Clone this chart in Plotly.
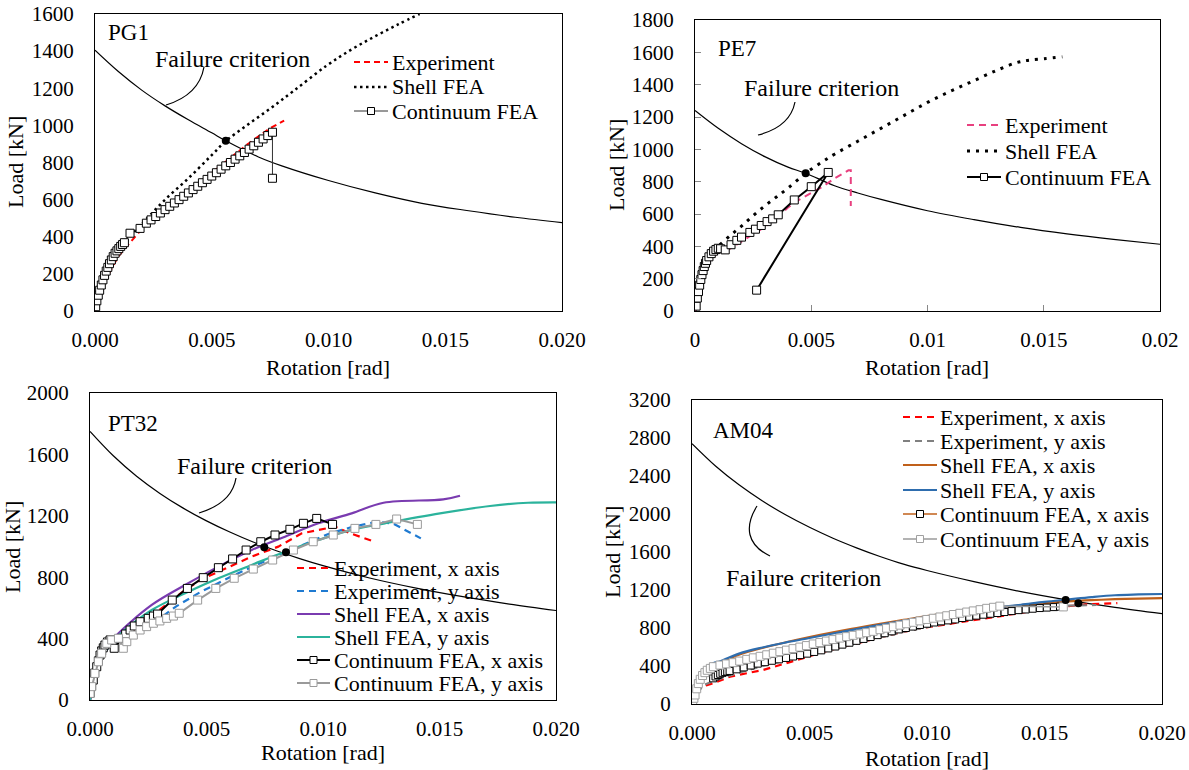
import plotly.graph_objects as go

W, H = 1189, 770
FONT = "Liberation Serif, Times New Roman, serif"


def px(x):
    return x / W


def py(y):
    return 1 - y / H


# ======================= DATA =======================
# ---- PG1 ----
pg1_fail_x = [0, 0.001, 0.002, 0.003, 0.004, 0.005, 0.0056, 0.007, 0.008, 0.010, 0.012, 0.014, 0.016, 0.018, 0.020]
pg1_fail_y = [1405, 1290, 1190, 1105, 1030, 960, 917, 830, 782, 703, 636, 580, 540, 505, 476]
pg1_exp_x = [0, 0.0001, 0.0003, 0.0005, 0.0008, 0.001, 0.0013, 0.0016, 0.002, 0.0025, 0.003, 0.0035, 0.004,
             0.0045, 0.005, 0.0055, 0.006, 0.0065, 0.007, 0.0075, 0.0081]
pg1_exp_y = [0, 45, 120, 180, 250, 295, 340, 385, 440, 490, 540, 590, 640, 690, 740, 790, 845, 895, 940, 985, 1025]
pg1_shell_x = [0, 0.0001, 0.0002, 0.0003, 0.0005, 0.0007, 0.0009, 0.0011, 0.0013, 0.0016, 0.0019, 0.0022, 0.003,
               0.004, 0.005, 0.0056, 0.0065, 0.0075, 0.0085, 0.0099, 0.011, 0.012, 0.013, 0.0139]
pg1_shell_y = [0, 55, 110, 160, 225, 275, 312, 345, 372, 415, 455, 495, 600, 715, 840, 915, 1000, 1090, 1185, 1320,
               1410, 1480, 1545, 1600]
pg1_cont_x = [0.00003, 0.00008, 0.00014, 0.0002, 0.00027, 0.00034, 0.00041, 0.00048, 0.00055, 0.00062, 0.0007,
              0.00078, 0.00086, 0.00094, 0.00102, 0.0011, 0.00118, 0.00126, 0.0015, 0.00193, 0.0022, 0.0024, 0.0026,
              0.0028, 0.003, 0.0032, 0.0034, 0.0036, 0.0038, 0.004, 0.0042, 0.0044, 0.0046, 0.0048, 0.005, 0.0052,
              0.0054, 0.0056, 0.0058, 0.006, 0.0062, 0.0064, 0.0066, 0.0068, 0.007, 0.0072, 0.0074, 0.0076, 0.0076]
pg1_cont_y = [23, 55, 85, 112, 140, 168, 192, 215, 235, 255, 275, 293, 311, 324, 336, 348, 358, 368, 419, 445, 473,
              491, 509, 528, 546, 564, 582, 600, 618, 636, 654, 672, 691, 709, 727, 745, 764, 782, 800, 818, 836, 854,
              872, 890, 909, 927, 945, 963, 715]
pg1_dot_x = [0.0056]
pg1_dot_y = [917]

# ---- PE7 ----
pe7_fail_x = [0, 0.001, 0.002, 0.003, 0.004, 0.00476, 0.006, 0.007, 0.008, 0.010, 0.012, 0.014, 0.016, 0.018, 0.020]
pe7_fail_y = [1240, 1130, 1035, 955, 890, 852, 775, 730, 690, 620, 565, 517, 477, 443, 413]
pe7_exp_x = [0, 0.0002, 0.0004, 0.0006, 0.0008, 0.001, 0.0015, 0.002, 0.0025, 0.003, 0.0035, 0.004, 0.0045,
             0.005, 0.0055, 0.006, 0.0066, 0.0067, 0.0067]
pe7_exp_y = [0, 130, 230, 300, 340, 360, 385, 430, 480, 520, 575, 640, 690, 730, 770, 820, 870, 870, 650]
pe7_shell_x = [0, 0.0001, 0.0002, 0.0003, 0.0004, 0.0005, 0.0006, 0.0007, 0.0008, 0.001, 0.0015, 0.002, 0.0025,
               0.003, 0.0035, 0.004, 0.00476, 0.0055, 0.006, 0.007, 0.008, 0.009, 0.010, 0.011, 0.012, 0.013,
               0.0138, 0.0143, 0.015, 0.0158]
pe7_shell_y = [0, 60, 125, 185, 235, 280, 315, 345, 370, 400, 465, 525, 590, 650, 705, 760, 852, 925, 970, 1050,
               1130, 1210, 1290, 1360, 1425, 1490, 1535, 1550, 1560, 1572]
pe7_cont_x = [0.00005, 0.0001, 0.00015, 0.0002, 0.00025, 0.0003, 0.00035, 0.0004, 0.00045, 0.0005, 0.0006, 0.0007,
              0.0008, 0.0009, 0.001, 0.0011, 0.0013, 0.00155, 0.0018, 0.002, 0.00236, 0.0026, 0.00285, 0.0031,
              0.00334, 0.00358, 0.00427, 0.005, 0.00573, 0.00265]
pe7_cont_y = [30, 80, 120, 160, 195, 225, 250, 275, 295, 312, 335, 355, 370, 380, 388, 385, 378, 410, 437, 457, 486,
              506, 529, 553, 570, 595, 687, 769, 857, 129]
pe7_dot_x = [0.00476]
pe7_dot_y = [852]

# ---- PT32 ----
pt32_fail_x = [0, 0.001, 0.002, 0.003, 0.004, 0.005, 0.006, 0.007, 0.008, 0.009, 0.010, 0.012, 0.014, 0.016, 0.018,
               0.020]
pt32_fail_y = [1750, 1591, 1458, 1346, 1250, 1167, 1094, 1029, 972, 921, 875, 795, 729, 673, 625, 583]
pt32_expx_x = [0, 0.0001, 0.0003, 0.0005, 0.0007, 0.001, 0.0015, 0.002, 0.0025, 0.00329, 0.00408, 0.00479, 0.0058,
               0.00694, 0.00808, 0.00909, 0.01052, 0.01116, 0.01209]
pt32_expx_y = [0, 60, 180, 270, 330, 380, 420, 470, 530, 619, 717, 786, 858, 934, 999, 1086, 1129, 1086, 1038]
pt32_expy_x = [0, 0.0003, 0.0006, 0.001, 0.0015, 0.002, 0.0028, 0.0037, 0.0047, 0.006, 0.007, 0.008, 0.009, 0.0102,
               0.0113, 0.0123, 0.013, 0.0142]
pt32_expy_y = [0, 190, 310, 370, 400, 440, 510, 610, 700, 800, 870, 935, 1000, 1080, 1130, 1160, 1150, 1053]
pt32_shx_x = [0, 0.0002, 0.0004, 0.0006, 0.0008, 0.001, 0.00115, 0.00265, 0.00408, 0.00551, 0.00694, 0.00837,
              0.0098, 0.01123, 0.0126, 0.01516, 0.01588]
pt32_shx_y = [0, 130, 230, 300, 350, 390, 423, 619, 749, 869, 977, 1064, 1151, 1216, 1285, 1307, 1331]
pt32_shy_x = [0, 0.0002, 0.0004, 0.0006, 0.0008, 0.001, 0.00115, 0.00265, 0.00408, 0.00551, 0.00694, 0.00837,
              0.0098, 0.01123, 0.01266, 0.01502, 0.01717, 0.0188, 0.02]
pt32_shy_y = [0, 130, 230, 300, 350, 390, 412, 586, 695, 793, 880, 966, 1042, 1108, 1151, 1216, 1264, 1285, 1288]
pt32_cx_x = [0, 0.00007, 0.00014, 0.0002, 0.00029, 0.00036, 0.00043, 0.0005, 0.00057, 0.00064, 0.00075, 0.00086,
             0.00095, 0.00104, 0.00136, 0.00153, 0.00172, 0.0019, 0.00215, 0.0025, 0.00272, 0.0029, 0.00353,
             0.00418, 0.00486, 0.00551, 0.00612, 0.0067, 0.00733, 0.00794, 0.00858, 0.00916, 0.00973, 0.01041]
pt32_cx_y = [43, 90, 130, 175, 217, 255, 293, 320, 340, 358, 378, 391, 385, 337, 402, 430, 456, 482, 510, 532, 547,
             560, 651, 727, 797, 862, 919, 977, 1031, 1075, 1112, 1151, 1183, 1144]
pt32_cy_x = [0, 0.00007, 0.00021, 0.00036, 0.0005, 0.00072, 0.00093, 0.00122, 0.00143, 0.00158, 0.00186, 0.00215,
             0.00243, 0.00272, 0.003, 0.00329, 0.00358, 0.00383, 0.00462, 0.0054, 0.00619, 0.00701, 0.00784,
             0.00873, 0.00958, 0.01044, 0.01137, 0.01227, 0.01316, 0.01405]
pt32_cy_y = [43, 87, 173, 249, 304, 369, 391, 402, 337, 380, 423, 456, 478, 500, 515, 532, 547, 565, 651, 727, 793,
             853, 912, 977, 1031, 1075, 1118, 1144, 1179, 1144]
pt32_dot_x = [0.00748, 0.00841]
pt32_dot_y = [995, 962]

# ---- AM04 ----
am_fail_x = [0, 0.001, 0.002, 0.003, 0.004, 0.005, 0.006, 0.007, 0.008, 0.009, 0.010, 0.012, 0.014, 0.016, 0.018,
             0.020]
am_fail_y = [2740, 2505, 2307, 2137, 1989, 1860, 1745, 1644, 1553, 1472, 1405, 1288, 1183, 1094, 1018, 951]
am_expx_x = [0, 0.0001, 0.0002, 0.00034, 0.0006, 0.00091, 0.00162, 0.00303, 0.00446, 0.00587, 0.00729, 0.00871,
             0.0097, 0.01112, 0.01297, 0.01538, 0.0168, 0.0181]
am_expx_y = [0, 50, 100, 165, 195, 218, 288, 358, 463, 568, 656, 744, 797, 849, 919, 1014, 1049, 1062]
am_expy_x = [0, 0.0002, 0.0005, 0.001, 0.002, 0.003, 0.004, 0.005, 0.006, 0.007, 0.008, 0.009, 0.010, 0.011, 0.012,
             0.013, 0.014, 0.015, 0.016, 0.0172]
am_expy_y = [0, 110, 200, 250, 330, 400, 460, 520, 580, 640, 700, 760, 810, 860, 905, 945, 980, 1010, 1035, 1042]
am_shx_x = [0, 0.0003, 0.0006, 0.0009, 0.0012, 0.002, 0.003, 0.004, 0.005, 0.006, 0.007, 0.008, 0.009, 0.010,
            0.011, 0.012, 0.013, 0.014, 0.015, 0.016, 0.017, 0.018, 0.019, 0.020]
am_shx_y = [0, 250, 370, 420, 440, 520, 590, 650, 705, 755, 800, 845, 885, 925, 960, 990, 1015, 1040, 1062, 1080,
            1093, 1103, 1110, 1115]
am_shy_x = [0, 0.0003, 0.0006, 0.0009, 0.0012, 0.002, 0.003, 0.004, 0.005, 0.006, 0.007, 0.008, 0.009, 0.010,
            0.011, 0.012, 0.013, 0.014, 0.015, 0.016, 0.017, 0.018, 0.019, 0.020]
am_shy_y = [0, 260, 380, 430, 450, 530, 595, 648, 695, 742, 788, 833, 876, 918, 955, 990, 1018, 1045, 1075, 1100,
            1125, 1145, 1153, 1158]
am_cx_x = [0.0009, 0.001, 0.0011, 0.0012, 0.0013, 0.0014, 0.0015, 0.0016, 0.0019, 0.0022, 0.0025, 0.0028, 0.0031,
           0.0034, 0.0037, 0.004, 0.0043, 0.0046, 0.0049, 0.0052, 0.0055, 0.0058, 0.0061, 0.0064, 0.0067, 0.007,
           0.0073, 0.0076, 0.0079, 0.0082, 0.0085, 0.0088, 0.0091, 0.0094, 0.0097, 0.01, 0.0103, 0.0106, 0.0109,
           0.0112, 0.0115, 0.0118, 0.0121, 0.0124, 0.0127, 0.013, 0.0133, 0.0136, 0.0139, 0.0142, 0.0145, 0.0148,
           0.0151, 0.0154, 0.01566]
am_cx_y = [270, 290, 305, 318, 328, 336, 342, 348, 365, 385, 405, 425, 440, 455, 470, 485, 500, 515, 530, 548, 565,
           585, 605, 625, 645, 665, 685, 705, 725, 745, 765, 785, 800, 815, 832, 845, 858, 870, 880, 890, 905, 918,
           930, 940, 950, 958, 968, 978, 988, 995, 1003, 1010, 1015, 1020, 1025]
am_cy_x = [0.00003, 0.00008, 0.00013, 0.0002, 0.00027, 0.00035, 0.00045, 0.00055, 0.00065, 0.00078, 0.00091,
           0.00119, 0.00147, 0.00175, 0.00203, 0.00233, 0.00261, 0.0029, 0.00318, 0.00346, 0.00374, 0.00402,
           0.0043, 0.00459, 0.00487, 0.00516, 0.00544, 0.00572, 0.006, 0.00629, 0.00658, 0.00686, 0.00715, 0.00743,
           0.00771, 0.008, 0.00828, 0.00857, 0.00885, 0.00913, 0.00942, 0.0097, 0.00999, 0.01027, 0.01055, 0.01084,
           0.01112, 0.0114, 0.01169, 0.01197, 0.01226, 0.01254, 0.01283, 0.0131, 0.0158]
am_cy_y = [24, 60, 95, 160, 215, 260, 300, 330, 355, 375, 393, 410, 422, 435, 452, 470, 486, 502, 518, 535, 551, 567,
           583, 599, 615, 632, 647, 663, 678, 694, 709, 723, 737, 751, 765, 782, 798, 814, 830, 845, 860, 875, 890,
           903, 916, 929, 942, 955, 968, 980, 993, 1007, 1018, 1030, 1022]
am_dot_x = [0.0159, 0.01644]
am_dot_y = [1095, 1060]

# tick labels
x_ticks = [0, 0.005, 0.010, 0.015, 0.020]
x_text_3f = ["0.000", "0.005", "0.010", "0.015", "0.020"]
x_text_pe7 = ["0", "0.005", "0.01", "0.015", "0.02"]

# ======================= FIGURE =======================
fig = go.Figure()

RED = "#FF0000"
PINK = "#E8407F"
BLUE_D = "#1F7AD1"
PURPLE = "#7A3BB0"
TEAL = "#2BB39C"
BROWN = "#C0601A"
BLUE_S = "#2E6DAE"
GREY = "#9A9A9A"
GREY_D = "#808080"


def line(xa, ya, x, y, color, width, dash="solid", shape="linear"):
    fig.add_trace(go.Scatter(x=x, y=y, xaxis=xa, yaxis=ya, mode="lines", showlegend=False,
                             line=dict(color=color, width=width, dash=dash, shape=shape)))


def marked(xa, ya, x, y, color, width, mcolor, msize=8, mwidth=1):
    fig.add_trace(go.Scatter(x=x, y=y, xaxis=xa, yaxis=ya, mode="lines+markers", showlegend=False,
                             line=dict(color=color, width=width),
                             marker=dict(symbol="square", size=msize, color="white",
                                         line=dict(color=mcolor, width=mwidth))))


def dots(xa, ya, x, y):
    fig.add_trace(go.Scatter(x=x, y=y, xaxis=xa, yaxis=ya, mode="markers", showlegend=False,
                             marker=dict(color="black", size=8)))


# PG1
line("x", "y", pg1_fail_x, pg1_fail_y, "black", 1.2, shape="spline")
line("x", "y", pg1_shell_x, pg1_shell_y, "black", 2.5, dash="2.5px,3.5px", shape="spline")
line("x", "y", pg1_exp_x, pg1_exp_y, RED, 2, dash="6px,4px")
marked("x", "y", pg1_cont_x, pg1_cont_y, "#333333", 1, "black", 8)
dots("x", "y", pg1_dot_x, pg1_dot_y)

# PE7
line("x2", "y2", pe7_fail_x, pe7_fail_y, "black", 1.2, shape="spline")
line("x2", "y2", pe7_shell_x, pe7_shell_y, "black", 3, dash="3px,6px", shape="spline")
line("x2", "y2", pe7_exp_x, pe7_exp_y, PINK, 2, dash="7px,5px")
marked("x2", "y2", pe7_cont_x, pe7_cont_y, "black", 2, "black", 8)
dots("x2", "y2", pe7_dot_x, pe7_dot_y)

# PT32
line("x3", "y3", pt32_fail_x, pt32_fail_y, "black", 1.2, shape="spline")
line("x3", "y3", pt32_expx_x, pt32_expx_y, RED, 2.2, dash="7px,5px")
line("x3", "y3", pt32_expy_x, pt32_expy_y, BLUE_D, 2.2, dash="7px,5px")
line("x3", "y3", pt32_shx_x, pt32_shx_y, PURPLE, 2.2, shape="spline")
line("x3", "y3", pt32_shy_x, pt32_shy_y, TEAL, 2.2, shape="spline")
marked("x3", "y3", pt32_cx_x, pt32_cx_y, "black", 2, "black", 8)
marked("x3", "y3", pt32_cy_x, pt32_cy_y, GREY, 2, GREY, 8)
dots("x3", "y3", pt32_dot_x, pt32_dot_y)

# AM04
line("x4", "y4", am_fail_x, am_fail_y, "black", 1.2, shape="spline")
line("x4", "y4", am_expx_x, am_expx_y, RED, 2.2, dash="7px,5px")
line("x4", "y4", am_expy_x, am_expy_y, GREY_D, 2.2, dash="7px,5px")
line("x4", "y4", am_shx_x, am_shx_y, BROWN, 2.2, shape="spline")
line("x4", "y4", am_shy_x, am_shy_y, BLUE_S, 2.2, shape="spline")
marked("x4", "y4", am_cx_x, am_cx_y, BROWN, 1.5, "black", 7)
marked("x4", "y4", am_cy_x, am_cy_y, GREY, 1.5, "#A0A0A0", 8)
dots("x4", "y4", am_dot_x, am_dot_y)

# ======================= AXES =======================
tickfont = dict(family=FONT, size=21, color="black")


def xaxis(dom, anchor, ticktext, inside=False):
    d = dict(domain=[px(dom[0]), px(dom[1])], range=[0, 0.02], anchor=anchor, showline=True, mirror=True,
             linecolor="black", linewidth=1, showgrid=False, zeroline=False, tickmode="array",
             tickvals=x_ticks, ticktext=ticktext, tickfont=tickfont, ticklabelstandoff=10, fixedrange=True,
             automargin=False)
    if inside:
        d.update(ticks="inside", ticklen=6, tickcolor="#888888", tickwidth=1)
    else:
        d.update(ticks="")
    return d


def yaxis(dom, anchor, top, dtick, inside=False):
    d = dict(domain=[py(dom[1]), py(dom[0])], range=[0, top], anchor=anchor, showline=True, mirror=True,
             linecolor="black", linewidth=1, showgrid=False, zeroline=False, tick0=0, dtick=dtick,
             tickfont=tickfont, ticklabelstandoff=16, fixedrange=True, automargin=False)
    if inside:
        d.update(ticks="inside", ticklen=6, tickcolor="#888888", tickwidth=1)
    else:
        d.update(ticks="")
    return d


layout = dict(
    width=W, height=H, margin=dict(l=0, r=0, t=0, b=0, pad=0, autoexpand=False), paper_bgcolor="white",
    plot_bgcolor="white", showlegend=False,
    xaxis=xaxis((95, 562), "y", x_text_3f),
    yaxis=yaxis((14, 311), "x", 1600, 200),
    xaxis2=xaxis((695, 1160), "y2", x_text_pe7, inside=True),
    yaxis2=yaxis((20, 311), "x2", 1800, 200, inside=True),
    xaxis3=xaxis((90, 556), "y3", x_text_3f),
    yaxis3=yaxis((393, 700), "x3", 2000, 400),
    xaxis4=xaxis((692, 1162), "y4", x_text_3f),
    yaxis4=yaxis((400, 704), "x4", 3200, 400),
)
fig.update_layout(**layout)

annotations = []
shapes = []


def text(x, y, s, size, xanchor="left", angle=0):
    annotations.append(dict(x=px(x), y=py(y), xref="paper", yref="paper", text=s, showarrow=False,
                            xanchor=xanchor, yanchor="middle", textangle=angle, borderpad=0,
                            font=dict(family=FONT, size=size, color="black")))


# axis titles
for (xc, yc) in [(16, 162), (616, 165), (12, 547), (612, 552)]:
    text(xc, yc, "Load [kN]", 22, xanchor="center", angle=-90)
for (xc, yc) in [(328, 367), (927, 367), (323, 752), (927, 758)]:
    text(xc, yc, "Rotation [rad]", 22, xanchor="center")

# panel labels
text(107, 33, "PG1", 23)
text(717, 49, "PE7", 23)
text(107, 424, "PT32", 23)
text(712, 430, "AM04", 23)

# failure criterion labels + pointer curves
text(154, 59, "Failure criterion", 24)
text(743, 88, "Failure criterion", 24)
text(176, 466, "Failure criterion", 24)
text(725, 578, "Failure criterion", 24)


def path(d):
    shapes.append(dict(type="path", xref="paper", yref="paper", path=d, line=dict(color="black", width=1.2)))


def P(x, y):
    return f"{px(x):.5f},{py(y):.5f}"


path(f"M{P(204, 67)} Q{P(199, 95)} {P(166, 105)}")
path(f"M{P(795, 102)} Q{P(790, 127)} {P(758, 135)}")
path(f"M{P(236, 478)} Q{P(232, 503)} {P(199, 513)}")
path(f"M{P(757, 506)} C{P(744, 527)} {P(747, 545)} {P(770, 556)}")

# manual legends
legends = [
    (354, 388, 391, [
        (62, "Experiment", RED, 2, "6px,4px", None),
        (87, "Shell FEA", "black", 2.5, "2.5px,3.5px", None),
        (111, "Continuum FEA", "#333333", 1, "solid", "black"),
    ]),
    (967, 1001, 1004, [
        (125, "Experiment", PINK, 2, "7px,5px", None),
        (151, "Shell FEA", "black", 3, "3px,6px", None),
        (177, "Continuum FEA", "black", 2, "solid", "black"),
    ]),
    (297, 330, 333, [
        (568, "Experiment, x axis", RED, 2.2, "7px,5px", None),
        (591, "Experiment, y axis", BLUE_D, 2.2, "7px,5px", None),
        (614, "Shell FEA, x axis", PURPLE, 2.2, "solid", None),
        (637, "Shell FEA, y axis", TEAL, 2.2, "solid", None),
        (660, "Continuum FEA, x axis", "black", 2, "solid", "black"),
        (683, "Continuum FEA, y axis", GREY, 2, "solid", GREY),
    ]),
    (903, 937, 939, [
        (417, "Experiment, x axis", RED, 2.2, "7px,5px", None),
        (441, "Experiment, y axis", GREY_D, 2.2, "7px,5px", None),
        (465, "Shell FEA, x axis", BROWN, 2.2, "solid", None),
        (490, "Shell FEA, y axis", BLUE_S, 2.2, "solid", None),
        (514, "Continuum FEA, x axis", BROWN, 1.5, "solid", "black"),
        (539, "Continuum FEA, y axis", GREY, 1.5, "solid", "#A0A0A0"),
    ]),
]
for lx0, lx1, tx, items in legends:
    for yy, name, col, wd, dash, mc in items:
        shapes.append(dict(type="line", xref="paper", yref="paper", x0=px(lx0), x1=px(lx1), y0=py(yy), y1=py(yy),
                           line=dict(color=col, width=wd, dash=dash)))
        if mc:
            cx = (lx0 + lx1) / 2
            shapes.append(dict(type="rect", xref="paper", yref="paper", x0=px(cx - 3.5), x1=px(cx + 3.5),
                               y0=py(yy + 3.5), y1=py(yy - 3.5), fillcolor="white", line=dict(color=mc, width=1)))
        text(tx, yy, name, 22)

fig.update_layout(annotations=annotations, shapes=shapes)
fig.write_html("out.html")
